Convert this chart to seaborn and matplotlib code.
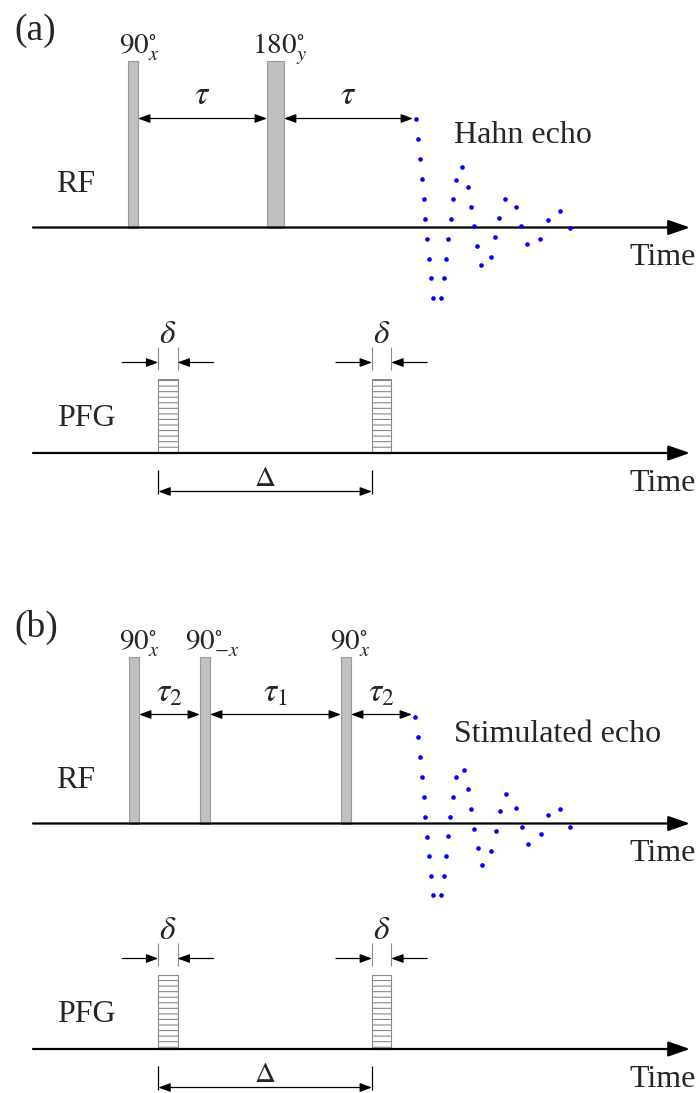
import numpy as np
import pandas as pd
import matplotlib
matplotlib.use("Agg")
import matplotlib.pyplot as plt
import seaborn as sns

sns.set_theme(style="white")
plt.rcParams["font.family"] = ["Liberation Serif", "DejaVu Serif"]
plt.rcParams["mathtext.fontset"] = "stix"
plt.rcParams["hatch.linewidth"] = 0.8

# ---------------- data (diagram units = pixels of the 700x1093 canvas) ----------------
panel_names = ["(a)", "(b)"]
panel_shift = [0, 596]           # vertical offset of panel (b)
echo_names = ["Hahn echo", "Stimulated echo"]

# RF pulses: start time, duration, label
rf_a_start = [128, 267]
rf_a_dur = [10, 17]
rf_a_lab = [r"$90^{\circ}_{x}$", r"$180^{\circ}_{y}$"]
rf_b_start = [129, 200, 341]
rf_b_dur = [10, 10, 10]
rf_b_lab = [r"$90^{\circ}_{x}$", r"$90^{\circ}_{-x}$", r"$90^{\circ}_{x}$"]

# delay intervals between pulses / echo
tau_a_from = [138, 284]
tau_a_to = [267, 413]
tau_a_lab = [r"$\tau$", r"$\tau$"]
tau_b_from = [139, 210, 351]
tau_b_to = [200, 341, 412]
tau_b_lab = [r"$\tau_2$", r"$\tau_1$", r"$\tau_2$"]

# gradient pulses (same in both panels)
pfg_start = [158.3, 372]
pfg_dur = [19.2, 19.2]

# echo signal samples: time and amplitude (up = positive)
echo_a_t = [415.7, 418.3, 420.3, 422, 423.7, 425.3, 427, 428.7, 430.7, 433.3, 440.7, 444,
            446.3, 448.3, 450.7, 453, 456, 461.7, 467.7, 470.7, 473.7, 476.7, 481.3, 491,
            495.3, 499.3, 504.7, 515.7, 521.3, 527.3, 540.3, 548, 560, 570]
echo_a_amp = [108.2, 88.2, 68.2, 48.2, 28.2, 8.2, -11.5, -31.2, -50.8, -70.5, -70.5, -50.8,
              -31.2, -11.5, 8.2, 28.2, 47.5, 60.8, 40.8, 20.8, 1.5, -18.5, -37.5, -29.2,
              -9.5, 9.8, 28.5, 20.5, 1.2, -16.8, -11.2, 7.5, 16.5, -0.8]
echo_b_t = [415.3, 418, 420, 422, 423.7, 425.3, 427, 428.7, 430.7, 433.3, 440.7, 443.7,
            445.7, 448, 450.3, 452.7, 455.7, 463.7, 468, 471, 474, 477.7, 482.3, 491.3,
            495.7, 499.7, 505.7, 516.3, 522, 528.3, 540.7, 548.3, 559.7, 570]
echo_b_amp = [106.6, 86.6, 66.6, 46.6, 26.6, 7, -13, -32.7, -52.4, -71.7, -71.7, -52.4,
              -32.4, -12.7, 7, 27, 46.6, 54, 34.3, 14.6, -5, -24.4, -41.7, -27,
              -7.4, 12.3, 30, 16, -3, -20.4, -10.4, 8.3, 14.6, -3]

# ---------------- layout constants ----------------
RF_BASE = 227.5
PFG_BASE = 453
RF_TOP = 61
PFG_TOP = 378.5
AX_START, AX_END = 33, 690
SERIF = ["Liberation Serif", "DejaVu Serif"]

fig = plt.figure(figsize=(7.0, 10.93), dpi=100)
ax = fig.add_axes([0, 0, 1, 1])
ax.set_xlim(0, 700)
ax.set_ylim(1093, 0)
ax.axis("off")


def time_axis(y):
    ax.annotate("", xy=(AX_END, y), xytext=(AX_START, y),
                arrowprops=dict(arrowstyle="-|>,head_length=1.1,head_width=0.38",
                                color="black", lw=1.6, shrinkA=0, shrinkB=0))


def darrow(x0, x1, y, style="<|-|>"):
    ax.annotate("", xy=(x1, y), xytext=(x0, y),
                arrowprops=dict(arrowstyle=style + ",head_length=0.6,head_width=0.22",
                                color="black", lw=0.9, shrinkA=0, shrinkB=0))


panels = [
    dict(start=rf_a_start, dur=rf_a_dur, lab=rf_a_lab, lab_dx=[6.5, 3.5],
         tf=tau_a_from, tt=tau_a_to, tl=tau_a_lab, tau_y=104,
         et=echo_a_t, ea=echo_a_amp, echo_base=143),
    dict(start=rf_b_start, dur=rf_b_dur, lab=rf_b_lab, lab_dx=[5, 7, 4],
         tf=tau_b_from, tt=tau_b_to, tl=tau_b_lab, tau_y=106,
         et=echo_b_t, ea=echo_b_amp, echo_base=146),
]

for k, p in enumerate(panels):
    off = panel_shift[k]
    rf_base = RF_BASE + off
    pfg_base = PFG_BASE + off

    # panel letter
    ax.text(14, 31 + off, panel_names[k], fontsize=27, family=SERIF,
            ha="left", va="center")

    # ---- RF line ----
    ax.bar(p["start"], [RF_TOP - RF_BASE] * len(p["start"]), width=p["dur"],
           bottom=rf_base, align="edge", color="#c0c0c0", edgecolor="#9a9a9a",
           linewidth=0.8, zorder=3)
    for s, d, lab, dx in zip(p["start"], p["dur"], p["lab"], p["lab_dx"]):
        ax.text(s + d / 2 + dx, 53 + off, lab, fontsize=21, ha="center", va="baseline")
    for a, b, lab in zip(p["tf"], p["tt"], p["tl"]):
        darrow(a, b, 118.5 + off)
        ax.text((a + b) / 2, p["tau_y"] + off, lab, fontsize=24, ha="center", va="baseline")

    time_axis(rf_base)
    ax.text(56, 192 + off, "RF", fontsize=23, family=SERIF, ha="left", va="baseline")
    ax.text(696, 265 + off, "Time", fontsize=23, family=SERIF, ha="right", va="baseline")
    ax.text(454, p["echo_base"] + off, echo_names[k], fontsize=23, family=SERIF,
            ha="left", va="baseline")

    echo_df = pd.DataFrame({"t": p["et"], "y": rf_base - np.array(p["ea"])})
    sns.scatterplot(data=echo_df, x="t", y="y", ax=ax, color="#0000ff", s=11,
                    linewidth=0, marker="o", zorder=5, legend=False)

    # ---- PFG line ----
    ax.bar(pfg_start, [PFG_TOP - PFG_BASE] * len(pfg_start), width=pfg_dur,
           bottom=pfg_base, align="edge", color="white", edgecolor="#8a8a8a",
           hatch="---", linewidth=0.8, zorder=3)
    for s, d in zip(pfg_start, pfg_dur):
        e = s + d
        ax.vlines([s, e], 347 + off, 370 + off, color="#8a8a8a", lw=0.8)
        darrow(s - 36, s, 362.5 + off, style="-|>")
        darrow(e + 36, e, 362.5 + off, style="-|>")
        ax.text(s + d / 2, 343 + off, r"$\delta$", fontsize=24, ha="center", va="baseline")

    ax.vlines([pfg_start[0], pfg_start[1]], 470 + off, 494 + off, color="black", lw=0.9)
    darrow(pfg_start[0], pfg_start[1], 491.5 + off)
    ax.text((pfg_start[0] + pfg_start[1]) / 2, 486 + off, r"$\Delta$", fontsize=21,
            ha="center", va="baseline")

    time_axis(pfg_base)
    ax.text(57, 426 + off, "PFG", fontsize=23, family=SERIF, ha="left", va="baseline")
    ax.text(696, 491 + off, "Time", fontsize=23, family=SERIF, ha="right", va="baseline")

ax.set_xlim(0, 700)
ax.set_ylim(1093, 0)
ax.set_xlabel("")
ax.set_ylabel("")
fig.savefig("out.png", dpi=100)
